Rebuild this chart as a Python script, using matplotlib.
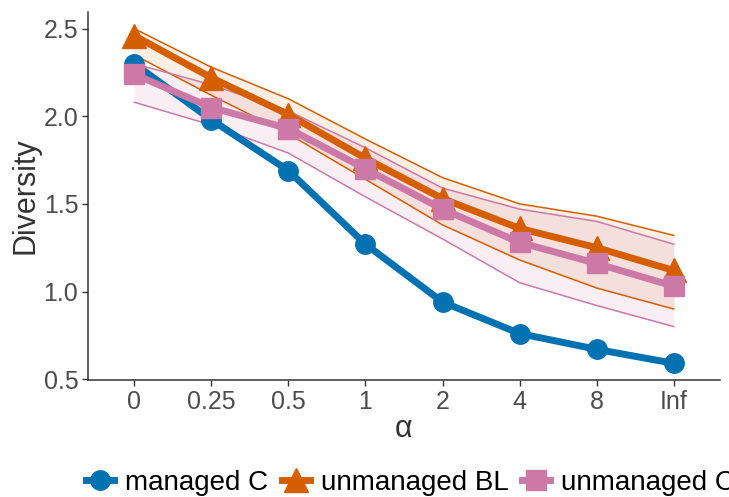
import numpy as np
import matplotlib
matplotlib.use('Agg')
from matplotlib import pyplot as plt

plt.rcParams['font.family'] = ['Liberation Sans', 'DejaVu Sans']

# data
alpha_labels = ['0', '0.25', '0.5', '1', '2', '4', '8', 'Inf']
managed_c = [2.30, 1.98, 1.69, 1.27, 0.94, 0.76, 0.67, 0.59]
unmanaged_bl = [2.46, 2.22, 2.01, 1.76, 1.53, 1.36, 1.25, 1.12]
unmanaged_bl_lo = [2.35, 2.12, 1.90, 1.64, 1.38, 1.18, 1.02, 0.90]
unmanaged_bl_hi = [2.50, 2.28, 2.10, 1.87, 1.65, 1.50, 1.43, 1.32]
unmanaged_c = [2.24, 2.05, 1.93, 1.70, 1.47, 1.28, 1.16, 1.03]
unmanaged_c_lo = [2.08, 1.95, 1.79, 1.54, 1.30, 1.05, 0.92, 0.80]
unmanaged_c_hi = [2.30, 2.18, 2.03, 1.82, 1.59, 1.47, 1.40, 1.27]

blue = '#0072B2'
orange = '#D55E00'
pink = '#CC79A7'

x = np.arange(len(alpha_labels))

fig = plt.figure(figsize=(7.29, 4.97), dpi=100)
ax = fig.add_axes([88/729, 1-380/497, (720-88)/729, (380-12)/497])

# ribbons
ax.fill_between(x, unmanaged_bl_lo, unmanaged_bl_hi, color=orange, alpha=0.1, lw=0, zorder=1)
ax.fill_between(x, unmanaged_c_lo, unmanaged_c_hi, color=pink, alpha=0.12, lw=0, zorder=1)
for lo, hi, col in [(unmanaged_bl_lo, unmanaged_bl_hi, orange), (unmanaged_c_lo, unmanaged_c_hi, pink)]:
    ax.plot(x, lo, color=col, lw=1.1, zorder=2)
    ax.plot(x, hi, color=col, lw=1.1, zorder=2)

# mean lines
ax.plot(x, managed_c, color=blue, lw=5, marker='o', ms=14, label='managed C', zorder=3)
ax.plot(x, unmanaged_bl, color=orange, lw=5, marker='^', ms=17, label='unmanaged BL', zorder=4)
ax.plot(x, unmanaged_c, color=pink, lw=5, marker='s', ms=14, label='unmanaged C', zorder=5)

ax.set_xlim(-0.6, 7.6)
ax.set_ylim(0.495, 2.595)
ax.set_xticks(x)
ax.set_xticklabels(alpha_labels)
ax.set_yticks([0.5, 1.0, 1.5, 2.0, 2.5])
ax.set_yticklabels(['0.5', '1.0', '1.5', '2.0', '2.5'])
ax.tick_params(labelsize=18, labelcolor='#4D4D4D', color='#333333', length=4, width=1, pad=3)
for s in ['top', 'right']:
    ax.spines[s].set_visible(False)
for s in ['left', 'bottom']:
    ax.spines[s].set_color('#333333')
    ax.spines[s].set_linewidth(1.1)

ax.set_ylabel('Diversity', fontsize=22, color='#333333', labelpad=2)
ax.set_xlabel('α', fontsize=22, color='#333333', labelpad=0)

# legend runs past the right edge, as in the reference
fig.legend(loc='center left', bbox_to_anchor=(86/729, 1-483/497), ncol=3, frameon=False,
           fontsize=20, handlelength=1.0, handletextpad=0.4, columnspacing=0.5,
           borderaxespad=0, borderpad=0)

fig.savefig('out.png', dpi=100)
